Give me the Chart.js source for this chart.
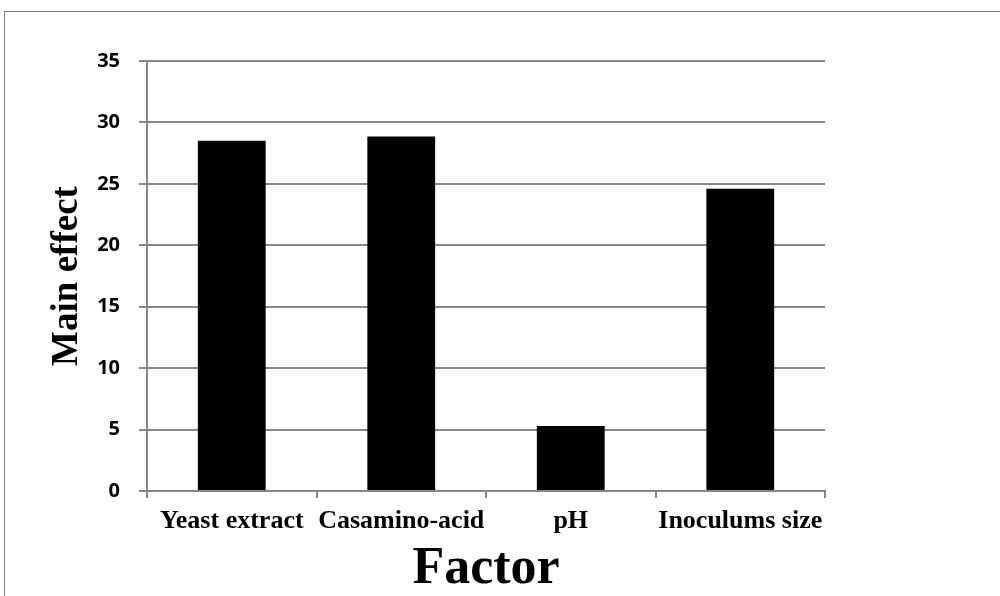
<!DOCTYPE html>
<html>
<head>
<meta charset="utf-8">
<script src="https://cdn.jsdelivr.net/npm/chart.js@4/dist/chart.umd.min.js"></script>
<style>
  body { margin: 0; background: #fff; }
  #wrap { position: relative; width: 1000px; height: 596px; }
  #frame { position: absolute; left: 4px; top: 11px; right: 0; bottom: 0;
           border-top: 1px solid #7f7f7f; border-left: 1px solid #7f7f7f; pointer-events: none; }
</style>
</head>
<body>
<div id="wrap">
  <canvas id="canvas" width="1000" height="596"></canvas>
  <div id="frame"></div>
</div>
<script>
var factors = ["Yeast extract", "Casamino-acid", "pH", "Inoculums size"];
var mainEffect = [28.5, 28.85, 5.3, 24.6];

var gridGray = "#878787";

window.onload = function() {
    var ctx = document.getElementById("canvas").getContext("2d");
    new Chart(ctx, {
        type: 'bar',
        data: {
            labels: factors,
            datasets: [{
                label: 'Main effect',
                data: mainEffect,
                backgroundColor: "#000000",
                borderWidth: 0,
                categoryPercentage: 1.0,
                barPercentage: 0.4
            }]
        },
        options: {
            responsive: false,
            animation: false,
            devicePixelRatio: 1,
            layout: { padding: { left: 0, right: 175, top: 61, bottom: 0 } },
            plugins: {
                legend: { display: false },
                tooltip: { enabled: false }
            },
            scales: {
                x: {
                    grid: {
                        display: true,
                        drawOnChartArea: false,
                        offset: true,
                        color: gridGray,
                        lineWidth: 2,
                        tickLength: 7
                    },
                    border: { color: gridGray, width: 2 },
                    ticks: {
                        color: "#000",
                        padding: 8,
                        maxRotation: 0,
                        autoSkip: false,
                        font: { family: "'Liberation Serif', 'Times New Roman', serif", weight: 'bold', size: 26 }
                    },
                    title: {
                        display: true,
                        text: "Factor",
                        color: "#000",
                        padding: { top: 0, bottom: 0 },
                        font: { family: "'Liberation Serif', 'Times New Roman', serif", weight: 'bold', size: 52, lineHeight: 1 }
                    },
                    afterFit: function(scale) { scale.height = 105; }
                },
                y: {
                    min: 0,
                    max: 35,
                    grid: {
                        color: gridGray,
                        lineWidth: 2,
                        tickLength: 8
                    },
                    border: { color: gridGray, width: 2 },
                    ticks: {
                        stepSize: 5,
                        color: "#000",
                        padding: 19,
                        font: { family: "'Open Sans', 'Liberation Sans', sans-serif", weight: 'bold', size: 20 }
                    },
                    title: {
                        display: true,
                        text: "Main effect",
                        color: "#000",
                        padding: { top: 49, bottom: 0 },
                        font: { family: "'Liberation Serif', 'Times New Roman', serif", weight: 'bold', size: 37, lineHeight: 1 }
                    },
                    afterFit: function(scale) { scale.width = 147; }
                }
            }
        }
    });
};
</script>
</body>
</html>
